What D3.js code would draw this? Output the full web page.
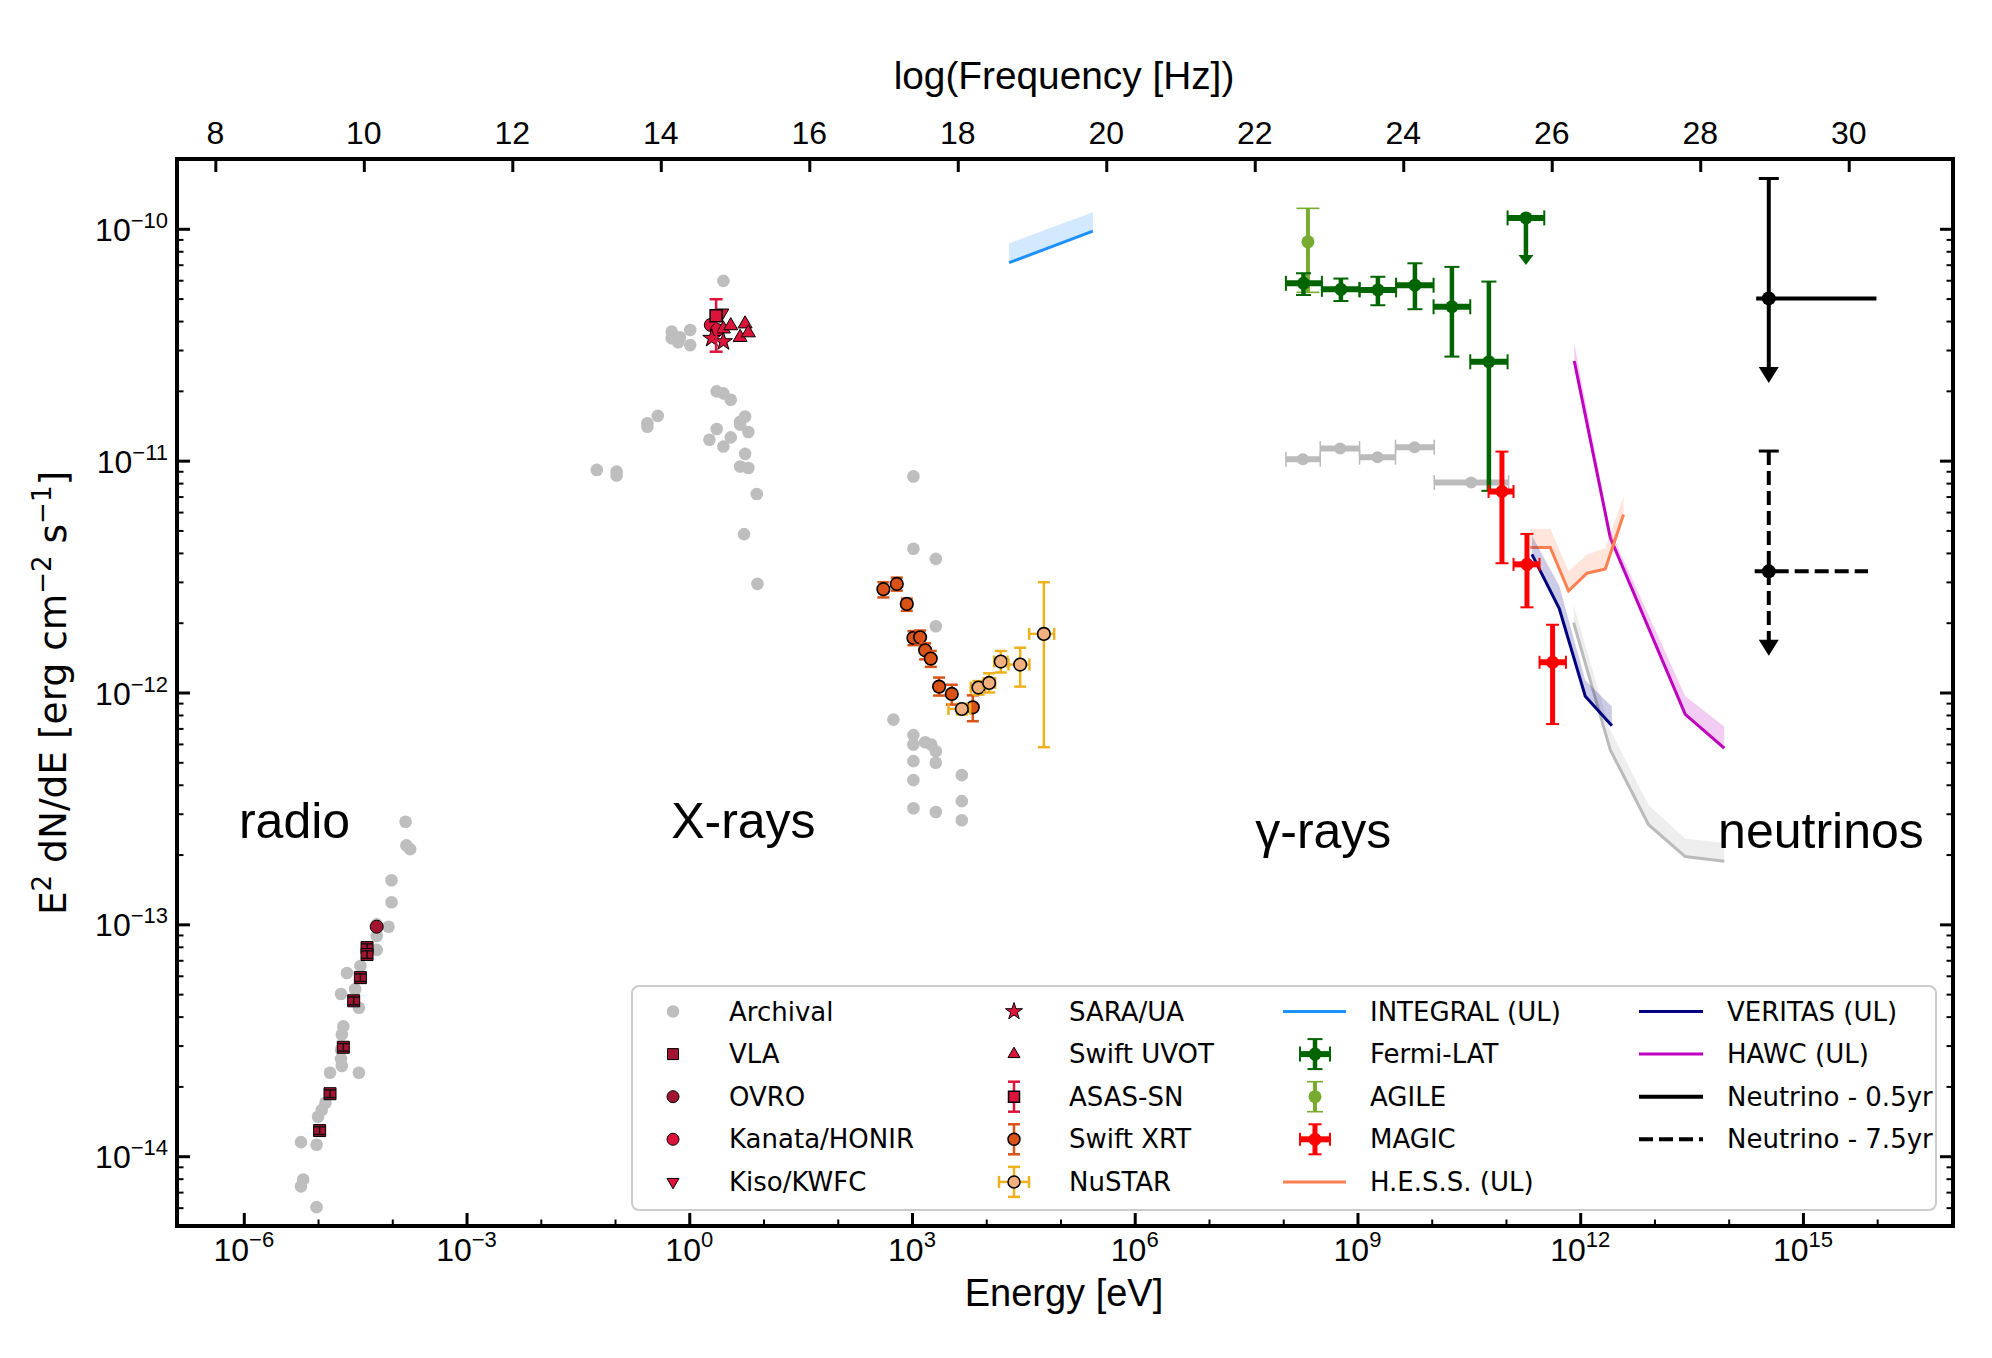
<!DOCTYPE html>
<html><head><meta charset="utf-8">
<script src="https://cdn.jsdelivr.net/npm/d3@7"></script>
<style>body{margin:0;background:#fff} svg{display:block}</style>
</head><body>
<svg id="c" width="1992" height="1358"></svg>
<script>
// ---------------- DATA (Energy [eV], E^2 dN/dE [erg cm^-2 s^-1]) ----------------
const xDomain = [1.26e-7, 1.05e17];
const yDomain = [5.0e-15, 2.0e-10];
const xMajorExps = [-6, -3, 0, 3, 6, 9, 12, 15];
const yMajorExps = [-14, -13, -12, -11, -10];
const topTickLabels = [8, 10, 12, 14, 16, 18, 20, 22, 24, 26, 28, 30];
const planckEvS = 4.1357e-15;

const archivalRadio = [
  [1.51e-4,2.77e-13],[1.55e-4,2.19e-13],[1.74e-4,2.11e-13],[9.77e-5,1.55e-13],[9.77e-5,1.245e-13],
  [8.91e-5,9.77e-14],[6.17e-5,1.0e-13],[6.17e-5,8.91e-14],[6.17e-5,7.76e-14],[4.57e-5,7.9e-14],
  [3.72e-5,6.61e-14],[2.45e-5,6.17e-14],[3.16e-5,5.25e-14],[2.04e-5,5.01e-14],[3.55e-5,4.37e-14],
  [2.19e-5,3.63e-14],[2.09e-5,3.35e-14],[2.04e-5,2.88e-14],[2.04e-5,2.63e-14],[2.09e-5,2.45e-14],
  [3.55e-5,2.29e-14],[1.45e-5,2.29e-14],[1.26e-5,1.70e-14],[1.0e-5,1.48e-14],[1.12e-5,1.58e-14],
  [5.89e-6,1.15e-14],[9.55e-6,1.12e-14],[6.31e-6,7.94e-15],[5.89e-6,7.41e-15],[9.55e-6,6.03e-15]
];
const archivalOptical = [
  [2.88,5.96e-11],[0.581,3.60e-11],[0.581,3.37e-11],[0.752,3.40e-11],[1.03,3.66e-11],[1.03,3.15e-11],
  [0.708,3.24e-11],[2.34,1.99e-11],[2.88,1.95e-11],[3.62,1.83e-11],[0.377,1.56e-11],[0.273,1.40e-11],
  [0.273,1.45e-11],[5.65,1.55e-11],[4.84,1.47e-11],[6.25,1.33e-11],[4.84,1.43e-11],[2.34,1.37e-11],
  [1.87,1.23e-11],[3.62,1.26e-11],[2.88,1.15e-11],[5.65,1.07e-11],[4.84,9.44e-12],[6.25,9.29e-12],
  [0.0568,9.12e-12],[0.105,8.97e-12],[0.105,8.63e-12],[8.11,7.18e-12],[5.47,4.82e-12],[8.28,2.94e-12]
];
const archivalXray = [
  [1045,8.55e-12],[1045,4.17e-12],[2094,3.77e-12],[2094,1.93e-12],[562,7.64e-13],[1045,6.55e-13],
  [1045,5.97e-13],[1503,6.10e-13],[1811,5.97e-13],[2094,5.58e-13],[1045,5.06e-13],[2094,4.98e-13],
  [1045,4.19e-13],[4688,4.40e-13],[4688,3.40e-13],[1045,3.17e-13],[2094,3.05e-13],[4688,2.81e-13]
];
// [E, F, Flo, Fhi]
const vla = [
  [1.05e-5,1.29e-14,1.24e-14,1.34e-14],[1.45e-5,1.86e-14,1.79e-14,1.93e-14],[2.19e-5,2.95e-14,2.84e-14,3.06e-14],
  [3.02e-5,4.68e-14,4.50e-14,4.86e-14],[3.72e-5,5.89e-14,5.67e-14,6.11e-14],[4.57e-5,7.94e-14,7.64e-14,8.24e-14],
  [4.57e-5,7.41e-14,7.13e-14,7.69e-14]
];
const ovro = [[6.17e-5,9.77e-14]];
const kanata = [[1.95,3.85e-11],[2.37,3.66e-11]];
const kiso = [[2.74,4.33e-11]];
const sara = [[2.01,3.37e-11],[2.88,3.26e-11]];
const uvot = [[2.88,3.70e-11],[3.62,3.82e-11],[4.84,3.40e-11],[5.65,3.89e-11],[6.25,3.56e-11]];
const asassn = [[2.30,4.22e-11,2.95e-11,4.97e-11]];
// Swift XRT [E, F, Flo, Fhi]
const xrt = [
  [412,2.79e-12,2.57e-12,2.99e-12],[624,2.94e-12,2.75e-12,3.13e-12],[851,2.41e-12,2.25e-12,2.54e-12],
  [1045,1.72e-12,1.60e-12,1.84e-12],[1285,1.73e-12,1.61e-12,1.85e-12],[1503,1.52e-12,1.39e-12,1.63e-12],
  [1791,1.40e-12,1.29e-12,1.51e-12],[2317,1.06e-12,9.70e-13,1.16e-12],[3436,9.86e-13,8.87e-13,1.08e-12],
  [6592,8.63e-13,7.52e-13,9.72e-13]
];
// NuSTAR [E, Elo, Ehi, F, Flo, Fhi]
const nustar = [
  [4688,3097,6067,8.49e-13,8.04e-13,8.93e-13],[7852,6194,9661,1.05e-12,9.79e-13,1.12e-12],
  [10940,9183,13183,1.10e-12,1.00e-12,1.21e-12],[15704,12764,19320,1.36e-12,1.22e-12,1.51e-12],
  [28640,19953,38194,1.32e-12,1.06e-12,1.56e-12],[59704,37844,82224,1.79e-12,5.81e-13,2.99e-12]
];
// INTEGRAL UL [E, F, Fupper]
const integral = [[20324,7.14e-11,8.65e-11],[272898,9.77e-11,1.18e-10]];
// Fermi-LAT [E, Elo, Ehi, F, Flo, Fhi]
const fermi = [
  [1.875e8,1.087e8,3.319e8,5.82e-11,5.18e-11,6.43e-11],[5.98e8,3.319e8,1.067e9,5.48e-11,4.88e-11,6.10e-11],
  [1.884e9,1.067e9,3.311e9,5.45e-11,4.68e-11,6.21e-11],[5.94e9,3.311e9,1.059e10,5.71e-11,4.50e-11,7.10e-11],
  [1.871e10,1.059e10,3.304e10,4.61e-11,2.81e-11,6.85e-11],[5.89e10,3.304e10,1.052e11,2.67e-11,7.41e-12,5.92e-11]
];
// Fermi-LAT UL [E, Elo, Ehi, F, Farrow]
const fermiUL = [[1.858e11,1.052e11,3.281e11,1.114e-10,6.98e-11]];
// archival Fermi [E, Elo, Ehi, F]
const fermiArch = [
  [1.841e8,1.087e8,3.155e8,1.014e-11],[5.85e8,3.155e8,1.067e9,1.127e-11],[1.862e9,1.067e9,3.251e9,1.035e-11],
  [5.87e9,3.251e9,1.081e10,1.143e-11],[3.404e10,1.081e10,1.084e11,8.05e-12]
];
// AGILE [E, F, Flo, Fhi]
const agile = [[2.153e8,8.79e-11,5.32e-11,1.225e-10]];
// MAGIC [E, Elo, Ehi, F, Flo, Fhi]
const magic = [
  [8.83e10,5.83e10,1.265e11,7.36e-12,3.61e-12,1.094e-11],
  [1.919e11,1.265e11,2.831e11,3.57e-12,2.33e-12,4.83e-12],
  [4.246e11,2.831e11,6.427e11,1.35e-12,7.31e-13,1.96e-12]
];
// UL curves [E, F, Fupper]
const hess = [[2.123e11,4.22e-12,5.09e-12],[3.954e11,4.22e-12,5.09e-12],[6.966e11,2.74e-12,3.33e-12],
  [1.233e12,3.27e-12,3.94e-12],[2.178e12,3.41e-12,4.19e-12],[3.837e12,5.86e-12,7.00e-12]];
const veritas = [[2.239e11,3.94e-12,4.74e-12],[5.224e11,2.30e-12,2.89e-12],[1.17e12,9.64e-13,1.13e-12],[2.673e12,7.18e-13,8.67e-13]];
const hawc = [[8.318e11,2.69e-11,3.21e-11],[2.541e12,4.65e-12,5.00e-12],[2.6e13,8.05e-13,9.64e-13],[8.71e13,5.75e-13,7.14e-13]];
const greyCurve = [[8.147e11,2.0e-12,2.38e-12],[2.541e12,5.66e-13,6.87e-13],[8.337e12,2.69e-13,3.27e-13],[2.6e13,1.96e-13,2.34e-13],[8.71e13,1.87e-13,2.25e-13]];
// Neutrinos [E, Elo, Ehi, F, Ftop, Farrow]
const nu05 = [[3.467e14,2.344e14,9.77e15,5.01e-11,1.648e-10,2.16e-11]];
const nu75 = [[3.467e14,2.239e14,7.53e15,3.33e-12,1.10e-11,1.44e-12]];

const regionLabels = [["radio",8.6e-7,1],["X-rays",0.57,1],["γ-rays",4.2e7,2],["neutrinos",7.2e13,2]];
const legendCols = [
  ["Archival","VLA","OVRO","Kanata/HONIR","Kiso/KWFC"],
  ["SARA/UA","Swift UVOT","ASAS-SN","Swift XRT","NuSTAR"],
  ["INTEGRAL (UL)","Fermi-LAT","AGILE","MAGIC","H.E.S.S. (UL)"],
  ["VERITAS (UL)","HAWC (UL)","Neutrino - 0.5yr","Neutrino - 7.5yr"]
];

// ---------------- SETUP ----------------
const L=177, R=1953, T=159, B=1226;
const svg = d3.select("#c");
const x = d3.scaleLog().domain(xDomain).range([L,R]);
const y = d3.scaleLog().domain(yDomain).range([B,T]);
const xf = d3.scaleLog().domain(xDomain.map(e=>e/planckEvS)).range([L,R]);
const FT = "'Liberation Sans', Arial, sans-serif";
const FL = "'DejaVu Sans', sans-serif";

const C = {arch:"#bebebe", vla:"#A2142F", crim:"#DC143C", xrt:"#D95319", nuF:"#F2B07F", nuE:"#EDB120",
  integ:"#1E90FF", fermi:"#006400", agile:"#77AC30", magic:"#FF0000", hess:"#FF7F50", ver:"#000080", hawc:"#BF00BF", grey:"#bbbbbb"};

const gPlot = svg.append("g");

function line(g,x1,y1,x2,y2,col,w,dash){
  const l=g.append("line").attr("x1",x1).attr("y1",y1).attr("x2",x2).attr("y2",y2)
   .attr("stroke",col).attr("stroke-width",w);
  if(dash) l.attr("stroke-dasharray",dash);
  return l;
}
function errbar(g,o){
  if(o.x0!=null){
    line(g,o.x0,o.cy,o.x1,o.cy,o.color,o.lwH,o.dash);
    if(o.capH){ line(g,o.x0,o.cy-o.capH/2,o.x0,o.cy+o.capH/2,o.color,o.capW);
               line(g,o.x1,o.cy-o.capH/2,o.x1,o.cy+o.capH/2,o.color,o.capW); }
  }
  if(o.y0!=null){
    line(g,o.cx,o.y0,o.cx,o.y1,o.color,o.lwV,o.dash);
    if(o.capV){ line(g,o.cx-o.capV/2,o.y0,o.cx+o.capV/2,o.y0,o.color,o.capW);
               if(!o.noBottomCap) line(g,o.cx-o.capV/2,o.y1,o.cx+o.capV/2,o.y1,o.color,o.capW); }
  }
}
function marker(g,type,cx,cy,fill,stroke,sw,size){
  let sym, rot=0;
  if(type==="circle"){ return g.append("circle").attr("cx",cx).attr("cy",cy).attr("r",size).attr("fill",fill)
      .attr("stroke",stroke||"none").attr("stroke-width",sw||0); }
  if(type==="square") sym=d3.symbol(d3.symbolSquare,size*size);
  if(type==="tri") sym=d3.symbol(d3.symbolTriangle,size*size*0.433);
  if(type==="trid"){ sym=d3.symbol(d3.symbolTriangle,size*size*0.433); rot=180; }
  if(type==="star") sym=d3.symbol(d3.symbolStar,size*size/0.8908);
  return g.append("path").attr("d",sym()).attr("transform",`translate(${cx},${cy}) rotate(${rot})`)
    .attr("fill",fill).attr("stroke",stroke||"none").attr("stroke-width",sw||0);
}
function arrowDown(g,cx,tipY,w,h,col){
  g.append("path").attr("d",`M${cx-w/2},${tipY-h}L${cx+w/2},${tipY-h}L${cx},${tipY}Z`).attr("fill",col);
}
function band(g,data,col,op){
  const a=d3.area().x(d=>x(d[0])).y0(d=>y(d[1])).y1(d=>y(d[2]));
  g.append("path").attr("d",a(data)).attr("fill",col).attr("opacity",op);
}
function curve(g,data,col,w){
  const ln=d3.line().x(d=>x(d[0])).y(d=>y(d[1]));
  g.append("path").attr("d",ln(data)).attr("fill","none").attr("stroke",col).attr("stroke-width",w)
   .attr("stroke-linejoin","miter");
}

// ---------------- CURVES ----------------
band(gPlot,greyCurve,"#cfcfcf",0.35); curve(gPlot,greyCurve,C.grey,3);
band(gPlot,hawc,C.hawc,0.2); curve(gPlot,hawc,C.hawc,3);
band(gPlot,hess,C.hess,0.2); curve(gPlot,hess,C.hess,3);
band(gPlot,veritas,C.ver,0.2); curve(gPlot,veritas,C.ver,3);
band(gPlot,integral,C.integ,0.2); curve(gPlot,integral,C.integ,3);

// ---------------- ARCHIVAL ----------------
[...archivalRadio,...archivalOptical,...archivalXray].forEach(d=>marker(gPlot,"circle",x(d[0]),y(d[1]),C.arch,null,0,6.3));
fermiArch.forEach(d=>{
  errbar(gPlot,{cy:y(d[3]),x0:x(d[1]),x1:x(d[2]),color:C.grey,lwH:6,capH:15,capW:1.5});
  marker(gPlot,"circle",x(d[0]),y(d[3]),C.grey,null,0,6);
});

// ---------------- RADIO ----------------
vla.forEach(d=>{
  marker(gPlot,"square",x(d[0]),y(d[1]),C.vla,"#000",1,12);
  errbar(gPlot,{cx:x(d[0]),y0:y(d[3]),y1:y(d[2]),color:"#111",lwV:1.5,capV:12,capW:1.5});
});
ovro.forEach(d=>marker(gPlot,"circle",x(d[0]),y(d[1]),C.vla,"#000",1,6.5));

// ---------------- OPTICAL ----------------
kanata.forEach(d=>marker(gPlot,"circle",x(d[0]),y(d[1]),C.crim,"#000",1,6.5));
kiso.forEach(d=>marker(gPlot,"trid",x(d[0]),y(d[1]),C.crim,"#000",1,14));
sara.forEach(d=>marker(gPlot,"star",x(d[0]),y(d[1]),C.crim,"#000",1,9.5));
uvot.forEach(d=>marker(gPlot,"tri",x(d[0]),y(d[1]),C.crim,"#000",1,14));
asassn.forEach(d=>{
  errbar(gPlot,{cx:x(d[0]),y0:y(d[3]),y1:y(d[2]),color:C.crim,lwV:2.5,capV:13,capW:2.5});
  marker(gPlot,"square",x(d[0]),y(d[1]),C.crim,"#000",1.5,12);
});

// ---------------- X-RAY ----------------
xrt.forEach(d=>{
  errbar(gPlot,{cx:x(d[0]),y0:y(d[3]),y1:y(d[2]),color:C.xrt,lwV:2.5,capV:12,capW:2.5});
  marker(gPlot,"circle",x(d[0]),y(d[1]),C.xrt,"#000",1.6,6.3);
});
nustar.forEach(d=>{
  errbar(gPlot,{cx:x(d[0]),cy:y(d[3]),x0:x(d[1]),x1:x(d[2]),y0:y(d[5]),y1:y(d[4]),color:C.nuE,lwH:2.5,lwV:2.5,capH:12,capV:12,capW:2.5});
  marker(gPlot,"circle",x(d[0]),y(d[3]),C.nuF,"#000",1.6,6.3);
});

// ---------------- GAMMA ----------------
agile.forEach(d=>{
  errbar(gPlot,{cx:x(d[0]),y0:y(d[3]),y1:y(d[2]),color:C.agile,lwV:4,capV:23,capW:1.6});
  marker(gPlot,"circle",x(d[0]),y(d[1]),C.agile,null,0,6.5);
});
fermi.forEach(d=>{
  errbar(gPlot,{cx:x(d[0]),cy:y(d[3]),x0:x(d[1]),x1:x(d[2]),y0:y(d[5]),y1:y(d[4]),color:C.fermi,lwH:6,lwV:4.5,capH:15,capV:15,capW:2});
  marker(gPlot,"circle",x(d[0]),y(d[3]),C.fermi,null,0,6.5);
});
fermiUL.forEach(d=>{
  const cx=x(d[0]), cy=y(d[3]), tip=y(d[4]);
  errbar(gPlot,{cy:cy,x0:x(d[1]),x1:x(d[2]),color:C.fermi,lwH:6,capH:15,capW:2});
  line(gPlot,cx,cy,cx,tip-9,C.fermi,4.5);
  arrowDown(gPlot,cx,tip,15,10,C.fermi);
  marker(gPlot,"circle",cx,cy,C.fermi,null,0,6.5);
});
magic.forEach(d=>{
  errbar(gPlot,{cx:x(d[0]),cy:y(d[3]),x0:x(d[1]),x1:x(d[2]),y0:y(d[5]),y1:y(d[4]),color:C.magic,lwH:6,lwV:5,capH:13,capV:13,capW:2});
  marker(gPlot,"circle",x(d[0]),y(d[3]),C.magic,null,0,6.5);
});

// ---------------- NEUTRINOS ----------------
function neutrino(d,dash){
  const cx=x(d[0]), cy=y(d[3]), top=y(d[4]), tip=y(d[5]);
  line(gPlot,x(d[1]),cy,x(d[2]),cy,"#000",4,dash);
  line(gPlot,cx,top,cx,tip-14,"#000",4,dash);
  line(gPlot,cx-10,top,cx+10,top,"#000",3);
  arrowDown(gPlot,cx,tip,20,16,"#000");
  marker(gPlot,"circle",cx,cy,"#000",null,0,7);
}
nu05.forEach(d=>neutrino(d,null));
nu75.forEach(d=>neutrino(d,"14,6"));

// ---------------- REGION LABELS ----------------
regionLabels.forEach(([t,e,k])=>{
  svg.append("text").attr("x",x(e)).attr("y",k===1?838:848).attr("font-family",FT).attr("font-size",50)
    .attr("fill","#000").text(t);
});

// ---------------- AXES ----------------
const xMajor = xMajorExps.map(e=>Math.pow(10,e));
const xMinor = d3.range(-6,17).filter(e=>e%3!==0).map(e=>Math.pow(10,e));
const yMajor = yMajorExps.map(e=>Math.pow(10,e));
const yMinor = [];
d3.range(-15,-9).forEach(e=>d3.range(2,10).forEach(k=>{const v=k*Math.pow(10,e); if(v>yDomain[0]&&v<yDomain[1]) yMinor.push(v);}));
const topVals = topTickLabels.map(e=>Math.pow(10,e));

function styleAxis(g,w){ g.select(".domain").remove(); g.selectAll(".tick line").attr("stroke","#000").attr("stroke-width",w); g.selectAll(".tick text").remove(); }
const axG = svg.append("g");
axG.append("g").attr("transform",`translate(0,${B})`).call(d3.axisBottom(x).tickValues(xMajor).tickSize(-13).tickSizeOuter(0)).call(g=>styleAxis(g,3));
axG.append("g").attr("transform",`translate(0,${B})`).call(d3.axisBottom(x).tickValues(xMinor).tickSize(-6.5).tickSizeOuter(0)).call(g=>styleAxis(g,2));
axG.append("g").attr("transform",`translate(0,${T})`).call(d3.axisTop(xf).tickValues(topVals).tickSize(-13).tickSizeOuter(0)).call(g=>styleAxis(g,3));
axG.append("g").attr("transform",`translate(${L},0)`).call(d3.axisLeft(y).tickValues(yMajor).tickSize(-13).tickSizeOuter(0)).call(g=>styleAxis(g,3));
axG.append("g").attr("transform",`translate(${L},0)`).call(d3.axisLeft(y).tickValues(yMinor).tickSize(-6.5).tickSizeOuter(0)).call(g=>styleAxis(g,2));
axG.append("g").attr("transform",`translate(${R},0)`).call(d3.axisRight(y).tickValues(yMajor).tickSize(-13).tickSizeOuter(0)).call(g=>styleAxis(g,3));
axG.append("g").attr("transform",`translate(${R},0)`).call(d3.axisRight(y).tickValues(yMinor).tickSize(-6.5).tickSizeOuter(0)).call(g=>styleAxis(g,2));
axG.append("rect").attr("x",L).attr("y",T).attr("width",R-L).attr("height",B-T).attr("fill","none").attr("stroke","#000").attr("stroke-width",4);

// tick labels
xMajorExps.forEach((e,i)=>{
  const t=svg.append("text").attr("x",x(xMajor[i])).attr("y",1261).attr("text-anchor","middle").attr("font-family",FT).attr("font-size",32);
  t.append("tspan").text("10");
  t.append("tspan").attr("dy",-14).attr("font-size",22).text(String(e).replace("-","\u2212"));
});
yMajorExps.forEach((e,i)=>{
  const t=svg.append("text").attr("x",168).attr("y",y(yMajor[i])+12).attr("text-anchor","end").attr("font-family",FT).attr("font-size",32);
  t.append("tspan").text("10");
  t.append("tspan").attr("dy",-13).attr("font-size",22).text(String(e).replace("-","\u2212"));
});
topTickLabels.forEach((e,i)=>{
  svg.append("text").attr("x",xf(topVals[i])).attr("y",144).attr("text-anchor","middle").attr("font-family",FT).attr("font-size",32).text(e);
});

// axis titles
svg.append("text").attr("x",1064).attr("y",1306).attr("text-anchor","middle").attr("font-family",FT).attr("font-size",38).text("Energy [eV]");
svg.append("text").attr("x",1064).attr("y",89).attr("text-anchor","middle").attr("font-family",FT).attr("font-size",38.8).text("log(Frequency [Hz])");
const yl = svg.append("text").attr("transform","translate(66,693) rotate(-90)").attr("text-anchor","middle").attr("font-family",FL).attr("font-size",37.5);
yl.append("tspan").text("E");
yl.append("tspan").attr("dy",-15).attr("font-size",26).text("2");
yl.append("tspan").attr("dy",15).text(" dN/dE [erg cm");
yl.append("tspan").attr("dy",-15).attr("font-size",26).text("\u22122");
yl.append("tspan").attr("dy",15).text(" s");
yl.append("tspan").attr("dy",-15).attr("font-size",26).text("\u22121");
yl.append("tspan").attr("dy",15).text("]");

// ---------------- LEGEND ----------------
const lg = svg.append("g");
lg.append("rect").attr("x",632).attr("y",986).attr("width",1304).attr("height",224).attr("rx",7)
  .attr("fill","#fff").attr("fill-opacity",0.85).attr("stroke","#cccccc").attr("stroke-width",2);
const rowY = i=>1011.5+i*42.6;
const handleX = [673,1014,1315,1671];
const textX = [729,1069,1370,1727];
const handles = {
  "Archival":(g,cx,cy)=>marker(g,"circle",cx,cy,C.arch,null,0,6.3),
  "VLA":(g,cx,cy)=>marker(g,"square",cx,cy,C.vla,"#000",1,11),
  "OVRO":(g,cx,cy)=>marker(g,"circle",cx,cy,C.vla,"#000",1,6),
  "Kanata/HONIR":(g,cx,cy)=>marker(g,"circle",cx,cy,C.crim,"#000",1,6),
  "Kiso/KWFC":(g,cx,cy)=>marker(g,"trid",cx,cy,C.crim,"#000",1,12),
  "SARA/UA":(g,cx,cy)=>marker(g,"star",cx,cy,C.crim,"#000",1,9),
  "Swift UVOT":(g,cx,cy)=>marker(g,"tri",cx,cy,C.crim,"#000",1,12),
  "ASAS-SN":(g,cx,cy)=>{errbar(g,{cx:cx,y0:cy-15,y1:cy+15,color:C.crim,lwV:2.5,capV:12,capW:2.5}); marker(g,"square",cx,cy,C.crim,"#000",1.5,11);},
  "Swift XRT":(g,cx,cy)=>{errbar(g,{cx:cx,y0:cy-15,y1:cy+15,color:C.xrt,lwV:2.5,capV:12,capW:2.5}); marker(g,"circle",cx,cy,C.xrt,"#000",1.5,6);},
  "NuSTAR":(g,cx,cy)=>{errbar(g,{cx:cx,cy:cy,x0:cx-15,x1:cx+15,y0:cy-15,y1:cy+15,color:C.nuE,lwH:2.5,lwV:2.5,capH:12,capV:12,capW:2.5}); marker(g,"circle",cx,cy,C.nuF,"#000",1.5,6);},
  "INTEGRAL (UL)":(g,cx,cy)=>line(g,1283,cy,1346,cy,C.integ,3),
  "Fermi-LAT":(g,cx,cy)=>{errbar(g,{cx:cx,cy:cy,x0:cx-15,x1:cx+15,y0:cy-15,y1:cy+15,color:C.fermi,lwH:6,lwV:4.5,capH:15,capV:15,capW:2}); marker(g,"circle",cx,cy,C.fermi,null,0,6.5);},
  "AGILE":(g,cx,cy)=>{errbar(g,{cx:cx,y0:cy-15,y1:cy+15,color:C.agile,lwV:4,capV:16,capW:1.6}); marker(g,"circle",cx,cy,C.agile,null,0,6.5);},
  "MAGIC":(g,cx,cy)=>{errbar(g,{cx:cx,cy:cy,x0:cx-15,x1:cx+15,y0:cy-15,y1:cy+15,color:C.magic,lwH:6,lwV:5,capH:13,capV:13,capW:2}); marker(g,"circle",cx,cy,C.magic,null,0,6.5);},
  "H.E.S.S. (UL)":(g,cx,cy)=>line(g,1283,cy,1346,cy,C.hess,3),
  "VERITAS (UL)":(g,cx,cy)=>line(g,1639,cy,1703,cy,C.ver,3),
  "HAWC (UL)":(g,cx,cy)=>line(g,1639,cy,1703,cy,C.hawc,3),
  "Neutrino - 0.5yr":(g,cx,cy)=>line(g,1639,cy,1703,cy,"#000",4),
  "Neutrino - 7.5yr":(g,cx,cy)=>line(g,1639,cy,1703,cy,"#000",4,"14,6")
};
legendCols.forEach((col,ci)=>col.forEach((name,ri)=>{
  const cy=rowY(ri);
  handles[name](lg,handleX[ci],cy);
  lg.append("text").attr("x",textX[ci]).attr("y",cy+9).attr("font-family",FL).attr("font-size",26).attr("fill","#000").text(name);
}));
</script>
</body></html>
